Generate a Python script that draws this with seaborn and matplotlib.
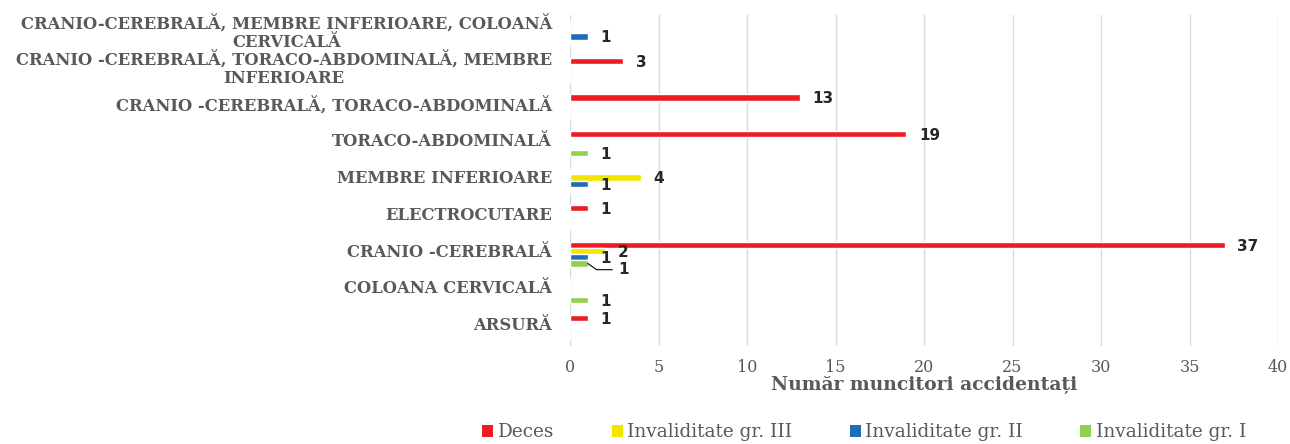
import matplotlib
matplotlib.use("Agg")
import matplotlib.pyplot as plt
import matplotlib.transforms as mtrans
from matplotlib.patches import Patch
import pandas as pd
import seaborn as sns

# categories, top to bottom
categories = [
    "CRANIO-CEREBRALĂ, MEMBRE INFERIOARE, COLOANĂ\nCERVICALĂ",
    "CRANIO -CEREBRALĂ, TORACO-ABDOMINALĂ, MEMBRE\nINFERIOARE",
    "CRANIO -CEREBRALĂ, TORACO-ABDOMINALĂ",
    "TORACO-ABDOMINALĂ",
    "MEMBRE INFERIOARE",
    "ELECTROCUTARE",
    "CRANIO -CEREBRALĂ",
    "COLOANA CERVICALĂ",
    "ARSURĂ",
]
series = ["Deces", "Invaliditate gr. III", "Invaliditate gr. II", "Invaliditate gr. I"]
deces = [0, 3, 13, 19, 0, 1, 37, 0, 1]
inv_iii = [0, 0, 0, 0, 4, 0, 2, 0, 0]
inv_ii = [1, 0, 0, 0, 1, 0, 1, 0, 0]
inv_i = [0, 0, 0, 1, 0, 0, 1, 1, 0]
colors = ["#ED1C24", "#F2E600", "#1F6DB6", "#92D050"]

rows = []
for name, vals in zip(series, [deces, inv_iii, inv_ii, inv_i]):
    for cat, v in zip(categories, vals):
        rows.append({"categorie": cat, "tip": name, "numar": v})
df = pd.DataFrame(rows)

sns.set_style("white")
plt.rcParams["font.family"] = ["DejaVu Serif"]

fig = plt.figure(figsize=(12.9, 4.44), dpi=100)
ax = fig.add_axes([0.4419, 0.2207, 0.5488, 0.7455])

sns.barplot(data=df, y="categorie", x="numar", hue="tip", order=categories,
            hue_order=series, palette=colors, orient="h", width=0.68, gap=0.0,
            saturation=1, legend=False, ax=ax)

ax.set_xlim(0, 40)
ax.set_xticks(range(0, 41, 5))
ax.set_ylim(len(categories) - 0.5, -0.5)
ax.grid(True, axis="x", color="#D9D9D9", linewidth=1)
ax.set_axisbelow(True)
for s in ax.spines.values():
    s.set_visible(False)
ax.tick_params(axis="both", length=0)
ax.tick_params(axis="y", pad=13, labelsize=11.8, labelcolor="#595959")
ax.tick_params(axis="x", pad=9, labelsize=11.5, labelcolor="#595959")
ax.set_ylabel("")
ax.set_xlabel("Număr muncitori accidentați", fontsize=13.5, fontweight="bold",
              color="#595959", labelpad=0)

shift = mtrans.ScaledTranslation(0, 4 / 100, fig.dpi_scale_trans)
for lab in ax.get_yticklabels():
    lab.set_fontweight("bold")
    lab.set_multialignment("center")
    lab.set_linespacing(1.12)
    lab.set_transform(lab.get_transform() + shift)

# value labels
for i, cont in enumerate(ax.containers):
    for j, bar in enumerate(cont):
        v = bar.get_width()
        if v <= 0:
            continue
        yc = bar.get_y() + bar.get_height() / 2
        if i == 3 and j == 6:
            ax.annotate(f"{v:g}", xy=(v, yc), xytext=(22, -4.5), textcoords="offset points",
                        ha="left", va="center", fontsize=11, fontweight="bold",
                        family="DejaVu Sans",
                        arrowprops=dict(arrowstyle="-", color="black", lw=0.8,
                                        shrinkA=2, shrinkB=0,
                                        connectionstyle="angle,angleA=0,angleB=-35,rad=0"))
        else:
            ax.annotate(f"{v:g}", xy=(v, yc), xytext=(9, -1), textcoords="offset points",
                        ha="left", va="center", fontsize=11, fontweight="bold",
                        family="DejaVu Sans")

handles = [Patch(facecolor=c, edgecolor="none") for c in colors]
fig.legend(handles, series, loc="center", bbox_to_anchor=(0.67, 0.026), ncol=4,
           frameon=False, fontsize=13.3, handlelength=0.6, handleheight=0.6,
           handletextpad=0.25, columnspacing=3.1, labelcolor="#595959")

fig.savefig("out.png", dpi=100)
